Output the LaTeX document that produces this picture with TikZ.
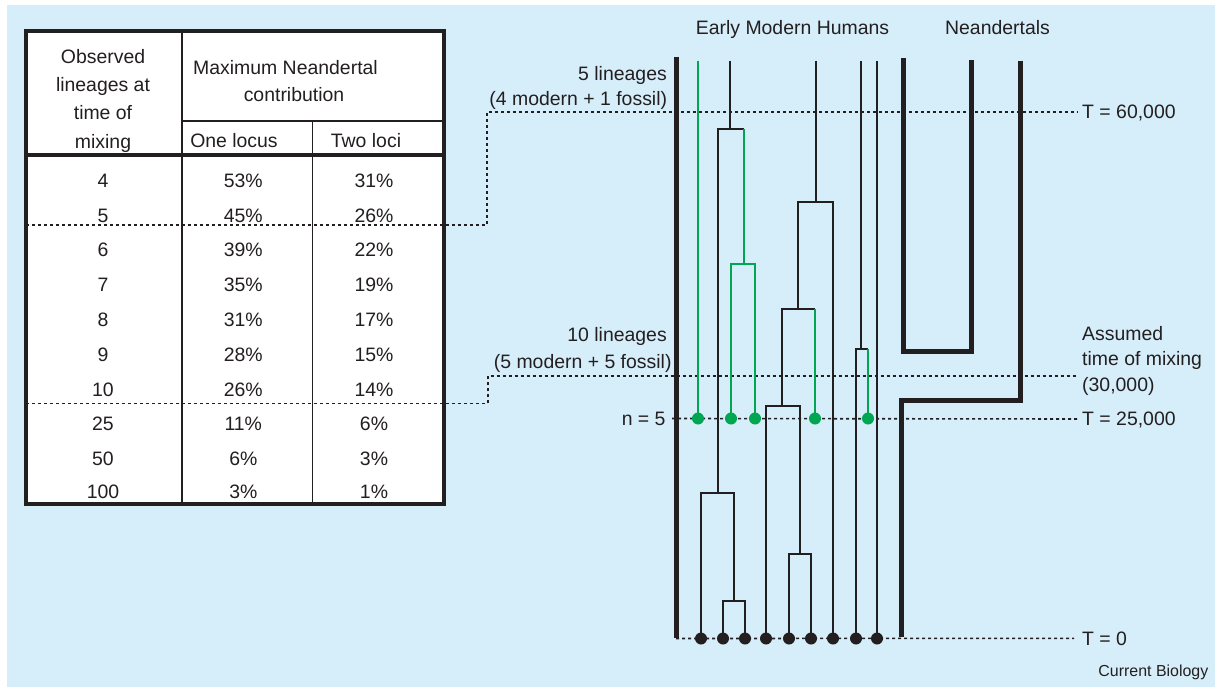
\documentclass[tikz,border=0pt]{standalone}
\usepackage{fontspec}
\setmainfont{Liberation Sans}
\definecolor{bgblue}{RGB}{214,237,250}
\definecolor{ink}{RGB}{35,31,32}
\definecolor{grn}{RGB}{0,166,81}
\begin{document}
\begin{tikzpicture}[x=1bp,y=-1bp,
  lbl/.style={font=\fontsize{19.5}{23}\selectfont, text=ink, inner sep=0pt, text height=13.8bp, text depth=0pt},
  tline/.style={ink, line width=1.6bp, dash pattern=on 3bp off 3bp},
  frame/.style={ink, line width=4bp},
  rule/.style={ink, line width=1.8bp},
  br/.style={ink, line width=1.9bp},
  gbr/.style={grn, line width=1.9bp},
  heavy/.style={ink, line width=5bp},
  tip/.style={circle, fill=ink, minimum size=12bp, inner sep=0pt},
  gtip/.style={circle, fill=grn, minimum size=12bp, inner sep=0pt}]
\useasboundingbox (0,0) rectangle (1215,687);
\fill[bgblue] (7,5) rectangle (1215,687);

% ---------- table ----------
\fill[white] (26,31) rectangle (443.7,504);
\draw[rule] (182,31) -- (182,504);
\draw[rule] (312.5,121) -- (312.5,504);
\draw[rule] (182,121) -- (443.7,121);
\draw[frame] (26,155) -- (443.7,155);

\node[lbl] (h1a) at (103,56.3) {Observed};
\node[lbl] (h1b) at (103,84.6) {lineages at};
\node[lbl] (h1c) at (103,112.9) {time of};
\node[lbl] (h1d) at (103,141.2) {mixing};
\node[lbl] (h2a) at (285.5,67.3) {Maximum Neandertal};
\node[lbl] (h2b) at (294,94.7) {contribution};
\node[lbl] (h3) at (234,140.7) {One locus};
\node[lbl] (h4) at (366,140.7) {Two loci};

\foreach \y/\a/\b/\c [count=\i] in {181/4/53/31, 215.5/5/45/26, 249.7/6/39/22,
    284.5/7/35/19, 319.7/8/31/17, 354.7/9/28/15, 389.3/10/26/14,
    423.3/25/11/6, 458.7/50/6/3, 491.7/100/3/1} {
  \node[lbl] (r\i a) at (103,\y) {\a};
  \node[lbl] (r\i b) at (243.3,\y) {\b\%};
  \node[lbl] (r\i c) at (374,\y) {\c\%};
}

% ---------- time lines ----------
\node[lbl, anchor=west] (t60) at (1082,112) {T = 60,000};
\node[lbl, anchor=west] (mixA) at (1082,333.7) {Assumed};
\node[lbl, anchor=west] (mixB) at (1082,358.5) {time of mixing};
\node[lbl, anchor=west] (mixC) at (1082,384.7) {(30,000)};
\node[lbl, anchor=west] (t25) at (1082,419) {T = 25,000};
\node[lbl, anchor=west] (t0) at (1082,638.3) {T = 0};

\coordinate (c5) at (26,225);
\coordinate (k5) at (487,225);
\coordinate (k60) at (487,112);
\coordinate (c10) at (26,403.5);
\coordinate (k10) at (488,403.5);
\coordinate (k30) at (488,376);
\coordinate (e30) at (1077,376);
\coordinate (s25) at (672,418.5);
\coordinate (s0) at (676,638.5);

\draw[tline] (c5) -- (k5) -- (k60) -- ([xshift=-4bp]t60.west);
\draw[tline] (c10) -- (k10) -- (k30) -- (e30);
\draw[tline] (s25) -- ([xshift=-5bp]t25.west);
\draw[tline] (s0) -- ([xshift=-8bp]t0.west);

\draw[frame] (26,31) rectangle (443.7,504);

% ---------- labels left of tree ----------
\node[lbl, anchor=east] (l5a) at (667,73.3) {5 lineages};
\node[lbl, anchor=east] (l5b) at (667.3,99) {(4 modern + 1 fossil)};
\node[lbl, anchor=east] (l10a) at (667,335) {10 lineages};
\node[lbl, anchor=east] (l10b) at (671.7,361.5) {(5 modern + 5 fossil)};
\node[lbl, anchor=east] (ln5) at (665.7,419) {n = 5};
\node[lbl] (hdEMH) at (792.5,28) {Early Modern Humans};
\node[lbl] (hdNea) at (997.5,28) {Neandertals};

% ---------- tree ----------
\foreach \n/\x in {1/701,2/723,3/745,4/766,5/789,6/811,7/833,8/856,9/877}
  \coordinate (b\n) at (\x,638.5);
\foreach \n/\x in {1/698,2/731,3/755,4/815,5/868}
  \coordinate (g\n) at (\x,418.5);

% clade A
\draw[br] (730,60.7) -- (730,129.3);
\draw[br] (718,493) -- (718,129.3) -- (744,129.3);
\draw[gbr] (744,129.3) -- (744,264.3);
\draw[gbr] (g2) -- (731,264.3) -- (755,264.3) -- (g3);
\draw[br] (b1) -- (701,493) -- (734,493) -- (734,601);
\draw[br] (b2) -- (723,601) -- (745,601) -- (b3);
\draw[gbr] (698,60.7) -- (g1);
% clade B
\draw[br] (816,60.7) -- (816,202.3);
\draw[br] (798,309.3) -- (798,202.3) -- (833,202.3) -- (b7);
\draw[br] (782,406) -- (782,309.3) -- (815,309.3);
\draw[gbr] (815,309.3) -- (g4);
\draw[br] (b4) -- (766,406) -- (800,406) -- (800,554);
\draw[br] (b5) -- (789,554) -- (811,554) -- (b6);
% clade C
\draw[br] (861,61) -- (861,349.3);
\draw[br] (b8) -- (856,349.3) -- (868,349.3);
\draw[gbr] (868,349.3) -- (g5);
\draw[br] (877,61) -- (b9);

% heavy boundaries
\draw[heavy] (676,57) -- (676,638);
\draw[heavy] (903.3,58.3) -- (903.3,351.5) -- (971,351.5) -- (971,60);
\draw[heavy] (1020.3,60.7) -- (1020.3,400) -- (901,400) -- (901,637);

% dots
\foreach \n in {1,...,9} \node[tip] (bd\n) at (b\n) {};
\foreach \n in {1,...,5} \node[gtip] (gd\n) at (g\n) {};

\node[font=\fontsize{16}{19}\selectfont, text=ink, inner sep=0pt, anchor=base east] (cb) at (1208.5,676.7) {Current Biology};
\end{tikzpicture}
\end{document}
